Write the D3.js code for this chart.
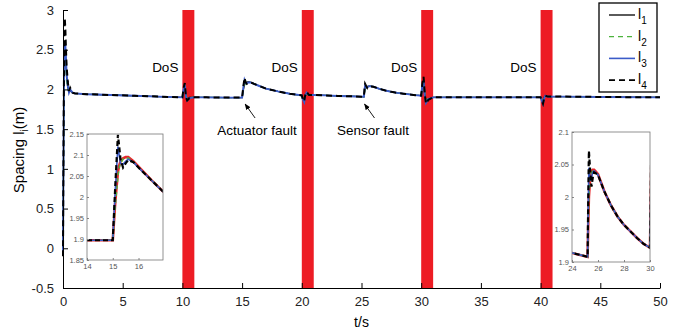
<!DOCTYPE html>
<html>
<head>
<meta charset="utf-8">
<script src="https://cdn.jsdelivr.net/npm/d3@7"></script>
<style>
body { margin: 0; background: #fff; }
text { font-family: "Liberation Sans", Arial, sans-serif; }
</style>
</head>
<body>
<script>
// time stamps (s)
var time = [0, 0.05, 0.1, 0.15, 0.2, 0.25, 0.3, 0.4, 0.5, 0.6,
    0.8, 1, 2, 4, 6, 8, 10,
    10.1, 10.2, 10.3, 10.4, 10.6, 11, 12, 14,
    15, 15.1, 15.2, 15.25, 15.3, 15.4, 15.5, 15.6, 15.8, 16,
    16.5, 17, 18, 19, 20,
    20.1, 20.2, 20.3, 20.4, 20.6, 21, 22, 23, 24,
    25, 25.2, 25.25, 25.3, 25.4, 25.5, 25.6, 25.7, 25.8, 26,
    26.5, 27, 27.5, 28, 28.5, 29, 29.5, 30,
    30.1, 30.2, 30.3, 30.4, 30.6, 31, 32, 35,
    40, 40.1, 40.2, 40.3, 40.4, 40.6, 41, 42, 45, 50];

var l1 = [0.00, 1.30, 2.30, 2.50, 2.45, 2.30, 2.15, 2.02, 1.97, 1.98,
    1.96, 1.95, 1.94, 1.93, 1.92, 1.91, 1.90,
    1.98, 2.04, 1.92, 1.87, 1.90, 1.90, 1.90, 1.897,
    1.897, 1.99, 2.06, 2.075, 2.085, 2.092, 2.095, 2.095, 2.085, 2.072,
    2.04, 2.01, 1.975, 1.945, 1.925,
    1.88, 1.86, 1.92, 1.95, 1.93, 1.93, 1.925, 1.918, 1.914,
    1.909, 1.908, 1.96, 2.00, 2.03, 2.04, 2.042, 2.042, 2.04, 2.035,
    2.008, 1.987, 1.97, 1.957, 1.947, 1.937, 1.928, 1.922,
    2.05, 2.12, 1.95, 1.85, 1.87, 1.90, 1.90, 1.90,
    1.90, 1.87, 1.84, 1.90, 1.92, 1.91, 1.91, 1.91, 1.905, 1.90];

var l2 = [0.05, 1.20, 2.20, 2.45, 2.40, 2.25, 2.10, 2.00, 1.97, 1.98,
    1.96, 1.95, 1.94, 1.93, 1.92, 1.91, 1.90,
    1.97, 2.02, 1.93, 1.88, 1.90, 1.90, 1.90, 1.897,
    1.897, 1.98, 2.05, 2.07, 2.08, 2.09, 2.093, 2.093, 2.084, 2.071,
    2.04, 2.01, 1.975, 1.945, 1.925,
    1.89, 1.87, 1.93, 1.94, 1.93, 1.93, 1.925, 1.918, 1.914,
    1.909, 1.908, 1.96, 2.00, 2.03, 2.038, 2.04, 2.04, 2.038, 2.034,
    2.008, 1.987, 1.97, 1.957, 1.947, 1.937, 1.928, 1.922,
    2.02, 2.08, 1.96, 1.87, 1.88, 1.90, 1.90, 1.90,
    1.90, 1.88, 1.85, 1.90, 1.915, 1.91, 1.91, 1.91, 1.905, 1.90];

var l3 = [-0.05, 1.40, 2.40, 2.60, 2.55, 2.40, 2.20, 2.05, 1.96, 2.00,
    1.96, 1.95, 1.94, 1.93, 1.92, 1.91, 1.90,
    2.00, 2.06, 1.91, 1.86, 1.89, 1.90, 1.90, 1.897,
    1.897, 2.02, 2.12, 2.10, 2.08, 2.078, 2.085, 2.09, 2.083, 2.07,
    2.04, 2.01, 1.975, 1.945, 1.925,
    1.87, 1.84, 1.93, 1.96, 1.93, 1.93, 1.925, 1.918, 1.914,
    1.909, 1.908, 1.99, 2.045, 2.025, 2.03, 2.038, 2.04, 2.038, 2.034,
    2.008, 1.987, 1.97, 1.957, 1.947, 1.937, 1.928, 1.922,
    2.06, 2.10, 1.92, 1.83, 1.88, 1.90, 1.90, 1.90,
    1.90, 1.86, 1.82, 1.89, 1.92, 1.91, 1.91, 1.91, 1.905, 1.90];

var l4 = [-0.10, 1.50, 2.60, 2.90, 2.75, 2.50, 2.30, 2.10, 1.98, 2.02,
    1.96, 1.95, 1.94, 1.93, 1.92, 1.91, 1.90,
    2.02, 2.08, 1.90, 1.86, 1.89, 1.90, 1.90, 1.897,
    1.897, 2.03, 2.148, 2.12, 2.09, 2.07, 2.08, 2.088, 2.083, 2.07,
    2.04, 2.01, 1.975, 1.945, 1.925,
    1.87, 1.85, 1.94, 1.97, 1.93, 1.93, 1.925, 1.918, 1.914,
    1.909, 1.908, 2.00, 2.071, 2.04, 2.016, 2.03, 2.038, 2.037, 2.034,
    2.008, 1.987, 1.97, 1.957, 1.947, 1.937, 1.928, 1.922,
    2.08, 2.16, 1.94, 1.82, 1.87, 1.90, 1.90, 1.90,
    1.90, 1.86, 1.82, 1.89, 1.92, 1.91, 1.91, 1.91, 1.905, 1.90];

var dosStart = [10, 20, 30, 40];
var dosLength = 1;
var xTicks = [0, 5, 10, 15, 20, 25, 30, 35, 40, 45, 50];
var yTicks = [-0.5, 0, 0.5, 1, 1.5, 2, 2.5, 3];
var legendLabels = ["1", "2", "3", "4"];

var width = 694, height = 335;

var svg = d3.select("body").append("svg")
    .attr("width", width)
    .attr("height", height);

var x = d3.scaleLinear().domain([0, 50]).range([63, 660]);
var y = d3.scaleLinear().domain([-0.5, 3]).range([288, 10]);

var series = [
    {name: "l1", values: l1, color: "#000", dash: null, w: 1.3},
    {name: "l2", values: l2, color: "#4db33d", dash: "5,4", w: 1.3},
    {name: "l3", values: l3, color: "#3b5bc8", dash: null, w: 1.9},
    {name: "l4", values: l4, color: "#000", dash: "6,4", w: 2}
];

// DoS bars
svg.selectAll(".dos")
    .data(dosStart)
    .enter()
    .append("rect")
    .attr("x", function(d) { return x(d); })
    .attr("width", function(d) { return x(d + dosLength) - x(d); })
    .attr("y", y(3))
    .attr("height", y(-0.5) - y(3))
    .attr("fill", "#ed1c24");

svg.selectAll(".dosText")
    .data(dosStart)
    .enter()
    .append("text")
    .attr("x", function(d) { return x(d) - 4; })
    .attr("y", 72)
    .attr("text-anchor", "end")
    .attr("font-size", 13.5)
    .text("DoS");

// main curves
var line = d3.line()
    .x(function(d) { return x(d[0]); })
    .y(function(d) { return y(d[1]); });

series.forEach(function(s) {
    svg.append("path")
        .datum(time.map(function(t, i) { return [t, s.values[i]]; }))
        .attr("d", line)
        .attr("fill", "none")
        .attr("stroke", s.color)
        .attr("stroke-width", s.w)
        .attr("stroke-dasharray", s.dash);
});

// axes
var xAxis = svg.append("g")
    .attr("transform", "translate(0," + y(-0.5) + ")")
    .call(d3.axisBottom(x).tickValues(xTicks).tickSizeInner(-5).tickSizeOuter(0).tickPadding(9));
var yAxis = svg.append("g")
    .attr("transform", "translate(" + x(0) + ",0)")
    .call(d3.axisLeft(y).tickValues(yTicks).tickSizeInner(-5).tickSizeOuter(0).tickPadding(9)
        .tickFormat(function(d) { return String(d); }));
[xAxis, yAxis].forEach(function(a) {
    a.selectAll("text").attr("font-size", 13).attr("fill", "#222")
        .attr("font-family", "Liberation Sans, Arial, sans-serif");
    a.select(".domain").attr("stroke", "#000");
});

svg.append("text")
    .attr("x", x(25))
    .attr("y", 327)
    .attr("text-anchor", "middle")
    .attr("font-size", 14)
    .text("t/s");

var ylab = svg.append("text")
    .attr("transform", "translate(24,150) rotate(-90)")
    .attr("text-anchor", "middle")
    .attr("font-size", 15);
ylab.append("tspan").text("Spacing l");
ylab.append("tspan").attr("font-size", 10).attr("dy", 4).text("i");
ylab.append("tspan").attr("dy", -4).text("(m)");

// fault annotations
svg.append("defs").append("marker")
    .attr("id", "arr")
    .attr("viewBox", "0 0 10 10")
    .attr("refX", 9).attr("refY", 5)
    .attr("markerWidth", 7).attr("markerHeight", 7)
    .attr("orient", "auto")
    .append("path")
    .attr("d", "M0,1L10,5L0,9z")
    .attr("fill", "#000");

var faults = [
    {label: "Actuator fault", t: 15, tx: 257},
    {label: "Sensor fault", t: 25, tx: 373}
];
faults.forEach(function(f) {
    svg.append("line")
        .attr("x1", x(f.t) + 13).attr("y1", 118)
        .attr("x2", x(f.t) + 3).attr("y2", 104)
        .attr("stroke", "#000").attr("stroke-width", 0.9)
        .attr("marker-end", "url(#arr)");
    svg.append("text")
        .attr("x", f.tx)
        .attr("y", 135)
        .attr("text-anchor", "middle")
        .attr("font-size", 13.5)
        .text(f.label);
});

// insets
var insets = [
    {id: "in1", xd: [14, 16.95], yd: [1.85, 2.15], box: [87, 134, 163, 260],
        xt: [14, 15, 16], yt: [1.85, 1.9, 1.95, 2, 2.05, 2.1, 2.15]},
    {id: "in2", xd: [24, 30], yd: [1.9, 2.1], box: [572, 132, 650, 262],
        xt: [24, 26, 28, 30], yt: [1.9, 1.95, 2, 2.05, 2.1]}
];
var insetStyle = [
    {values: l1, color: "#e8262a", dash: null, w: 2.6},
    {values: l2, color: "#4db33d", dash: "4,3", w: 1.5},
    {values: l3, color: "#3b5bc8", dash: null, w: 1.6},
    {values: l4, color: "#000", dash: "5,3", w: 2.2}
];

insets.forEach(function(ins) {
    var b = ins.box;
    var ix = d3.scaleLinear().domain(ins.xd).range([b[0], b[2]]);
    var iy = d3.scaleLinear().domain(ins.yd).range([b[3], b[1]]);
    var g = svg.append("g");
    g.append("rect")
        .attr("x", b[0]).attr("y", b[1])
        .attr("width", b[2] - b[0]).attr("height", b[3] - b[1])
        .attr("fill", "#fff");
    g.append("clipPath").attr("id", "clip-" + ins.id)
        .append("rect")
        .attr("x", b[0]).attr("y", b[1])
        .attr("width", b[2] - b[0]).attr("height", b[3] - b[1]);
    var il = d3.line()
        .x(function(d) { return ix(d[0]); })
        .y(function(d) { return iy(d[1]); });
    insetStyle.forEach(function(s) {
        g.append("path")
            .datum(time.map(function(t, i) { return [t, s.values[i]]; })
                .filter(function(d) { return d[0] >= ins.xd[0] - 1 && d[0] <= ins.xd[1] + 0.6; }))
            .attr("clip-path", "url(#clip-" + ins.id + ")")
            .attr("d", il)
            .attr("fill", "none")
            .attr("stroke", s.color)
            .attr("stroke-width", s.w)
            .attr("stroke-dasharray", s.dash);
    });
    var gx = g.append("g").attr("transform", "translate(0," + b[3] + ")")
        .call(d3.axisBottom(ix).tickValues(ins.xt).tickSizeInner(-2).tickSizeOuter(0).tickPadding(4)
            .tickFormat(function(d) { return String(d); }));
    var gy = g.append("g").attr("transform", "translate(" + b[0] + ",0)")
        .call(d3.axisLeft(iy).tickValues(ins.yt).tickSizeInner(-2).tickSizeOuter(0).tickPadding(3)
            .tickFormat(function(d) { return String(d); }));
    [gx, gy].forEach(function(a) {
        a.selectAll("text").attr("font-size", 7.5).attr("fill", "#555")
            .attr("font-family", "Liberation Sans, Arial, sans-serif");
        a.selectAll("line").attr("stroke", "#888");
        a.select(".domain").remove();
    });
    g.append("rect")
        .attr("x", b[0]).attr("y", b[1])
        .attr("width", b[2] - b[0]).attr("height", b[3] - b[1])
        .attr("fill", "none")
        .attr("stroke", "#777")
        .attr("stroke-width", 0.8);
});

// legend
var leg = svg.append("g");
leg.append("rect")
    .attr("x", 599).attr("y", 3)
    .attr("width", 58).attr("height", 89)
    .attr("fill", "#fff")
    .attr("stroke", "#000")
    .attr("stroke-width", 1.3);
var rows = leg.selectAll(".row")
    .data(series)
    .enter()
    .append("g")
    .attr("transform", function(d, i) { return "translate(0," + (15 + i * 21.7) + ")"; });
rows.append("line")
    .attr("x1", 609).attr("x2", 635)
    .attr("stroke", function(d) { return d.color; })
    .attr("stroke-width", function(d) { return Math.min(d.w, 1.6); })
    .attr("stroke-dasharray", function(d) { return d.dash; });
var lt = rows.append("text")
    .attr("x", 638)
    .attr("y", 4)
    .attr("font-size", 14);
lt.append("tspan").text("l");
lt.append("tspan").attr("font-size", 10).attr("dy", 5)
    .text(function(d, i) { return legendLabels[i]; });
</script>
</body>
</html>
